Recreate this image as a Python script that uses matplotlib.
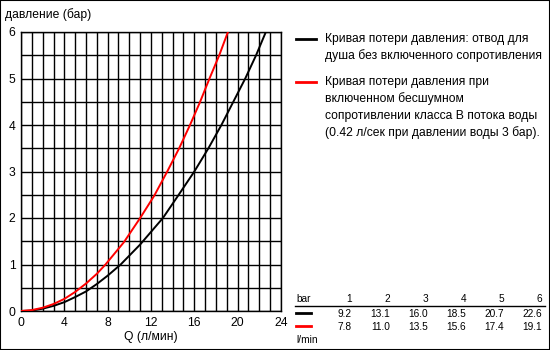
import matplotlib
matplotlib.use("Agg")
import matplotlib.pyplot as plt
from matplotlib.patches import Rectangle
from matplotlib.lines import Line2D

plt.rcParams['font.family'] = ['Liberation Sans', 'DejaVu Sans']

# Curve values (Q in l/min, pressure in bar)
q_black = [0, 1, 2, 3, 4, 5, 6, 7, 8, 9.2, 11, 13.1, 14.5, 16.0, 17.3, 18.5, 19.6, 20.7, 21.7, 22.6]
p_black = [0, 0.01, 0.05, 0.11, 0.19, 0.30, 0.42, 0.58, 0.76, 1.0, 1.43, 2.0, 2.48, 3.0, 3.5, 4.0, 4.5, 5.0, 5.5, 6.0]
q_red = [0, 1, 2, 3, 4, 5, 6, 7, 7.8, 9.5, 11.0, 12.3, 13.5, 14.6, 15.6, 16.5, 17.4, 18.3, 19.1]
p_red = [0, 0.02, 0.07, 0.15, 0.26, 0.41, 0.59, 0.80, 1.0, 1.48, 2.0, 2.48, 3.0, 3.5, 4.0, 4.48, 5.0, 5.5, 6.0]

table_bar = ['1', '2', '3', '4', '5', '6']
table_black = ['9.2', '13.1', '16.0', '18.5', '20.7', '22.6']
table_red = ['7.8', '11.0', '13.5', '15.6', '17.4', '19.1']

x_ticks = [0, 4, 8, 12, 16, 20, 24]
y_ticks = [0, 1, 2, 3, 4, 5, 6]

legend_black = ["Кривая потери давления: отвод для", "душа без включенного сопротивления"]
legend_red = ["Кривая потери давления при", "включенном бесшумном",
              "сопротивлении класса B потока воды", "(0.42 л/сек при давлении воды 3 бар)."]

W, H = 550, 350
fig = plt.figure(figsize=(W / 100, H / 100), dpi=100)
fig.patch.set_facecolor('white')

def fx(px):
    return px / W

def fy(py):
    return 1 - py / H

L, R, T, B = 21, 281, 32, 311
ax = fig.add_axes([fx(L), fy(B), (R - L) / W, (B - T) / H])
ax.set_xlim(0, 24)
ax.set_ylim(0, 6)
for v in range(0, 25):
    ax.axvline(v, color='black', lw=1.0, zorder=1)
for h in [i * 0.5 for i in range(13)]:
    ax.axhline(h, color='black', lw=1.0, zorder=1)
for s in ax.spines.values():
    s.set_color('black')
    s.set_linewidth(1.0)
ax.set_xticks(x_ticks)
ax.set_yticks(y_ticks)
ax.tick_params(length=0, labelsize=8.7, pad=4, colors='black')
ax.set_xticklabels([str(t) for t in x_ticks])
ax.set_yticklabels([str(t) for t in y_ticks])

ax.plot(q_black, p_black, color='black', lw=1.4, zorder=3, clip_on=True)
ax.plot(q_red, p_red, color='#ff0000', lw=1.4, zorder=3, clip_on=True)

fig.text(fx(5), fy(15), "давление (бар)", fontsize=8.7, va='center', ha='left')
fig.text(fx(151), fy(337), "Q (л/мин)", fontsize=8.7, va='center', ha='center')

# legend
fig.add_artist(Line2D([fx(296), fx(316)], [fy(39), fy(39)], color='black', lw=2))
fig.add_artist(Line2D([fx(296), fx(316)], [fy(82), fy(82)], color='#ff0000', lw=2))
for i, line in enumerate(legend_black):
    fig.text(fx(325), fy(39 + i * 17), line, fontsize=8.7, va='center', ha='left')
for i, line in enumerate(legend_red):
    fig.text(fx(325), fy(82 + i * 16.8), line, fontsize=8.7, va='center', ha='left')

# table
cols = [352, 390, 428, 466, 504, 542]
fs = 7.3
fig.text(fx(296), fy(299), "bar", fontsize=fs, va='center', ha='left')
for x, t in zip(cols, table_bar):
    fig.text(fx(x), fy(299), t, fontsize=fs, va='center', ha='right')
fig.add_artist(Line2D([fx(295), fx(545)], [fy(306), fy(306)], color='black', lw=1.0))
fig.add_artist(Line2D([fx(296), fx(311)], [fy(313), fy(313)], color='black', lw=2))
fig.add_artist(Line2D([fx(296), fx(311)], [fy(326), fy(326)], color='#ff0000', lw=2))
for x, t in zip(cols, table_black):
    fig.text(fx(x), fy(314), t, fontsize=fs, va='center', ha='right')
for x, t in zip(cols, table_red):
    fig.text(fx(x), fy(327), t, fontsize=fs, va='center', ha='right')
fig.text(fx(296), fy(340), "l/min", fontsize=fs, va='center', ha='left')

# outer border
fig.add_artist(Rectangle((0, 0), 1, 1, transform=fig.transFigure, fill=False,
                         edgecolor='black', lw=1.5))

fig.savefig('out.png', dpi=100, facecolor='white')
